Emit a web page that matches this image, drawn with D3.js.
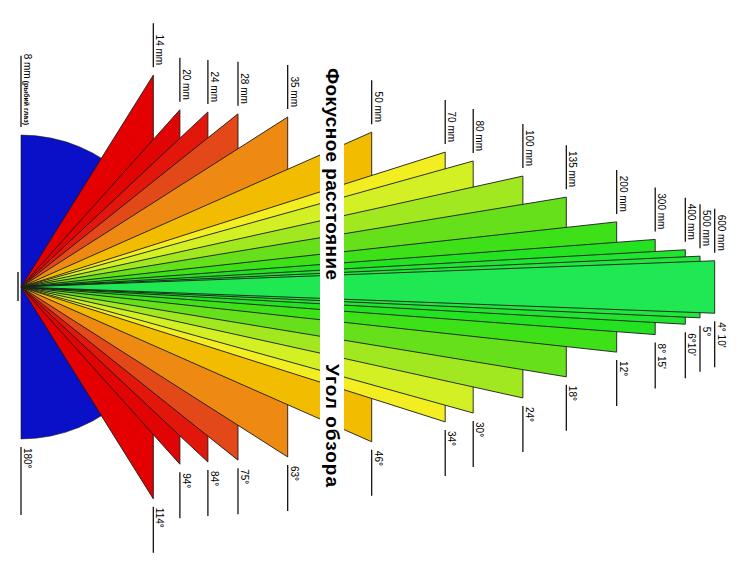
<!DOCTYPE html>
<html>
<head>
<meta charset="utf-8">
<script src="https://cdn.jsdelivr.net/npm/d3@7"></script>
<style>
  html, body { margin: 0; padding: 0; background: #fff; }
  svg { display: block; }
  text { font-family: "Liberation Sans", Arial, sans-serif; fill: #000; }
</style>
</head>
<body>
<svg id="chart" width="742" height="566"></svg>
<script>
// ---- data ----
const focalLabels = ["8 mm", "14 mm", "20 mm", "24 mm", "28 mm", "35 mm", "50 mm", "70 mm", "80 mm",
                     "100 mm", "135 mm", "200 mm", "300 mm", "400 mm", "500 mm", "600 mm"];
const angleDeg = [180, 114, 94, 84, 75, 63, 46, 34, 30, 24, 18, 12, 8.25, 6 + 10/60, 5, 4 + 10/60];
const angleLabels = ["180°", "114°", "94°", "84°", "75°", "63°", "46°", "34°", "30°", "24°", "18°", "12°",
                     "8° 15'", "6°10'", "5°", "4° 10'"];
// relative length of each wedge in the schematic (0..1)
const reach = [0.217, 0.189, 0.227, 0.267, 0.31, 0.381, 0.501, 0.606, 0.646, 0.717, 0.779, 0.851,
               0.906, 0.949, 0.97, 0.991];
const colors = ["#0a10c8", "#e40000", "#e00404", "#e2160a", "#e24818", "#ee8a12", "#f2bc00", "#f2ee22",
                "#d2f024", "#a2e820", "#66e01a", "#3ee018", "#24e222", "#20e430", "#20e63e", "#20e852"];
const fisheyeNote = "(рыбий глаз)";
const titleTop = "Фокусное расстояние";
const titleBottom = "Угол обзора";

// ---- layout ----
const svg = d3.select("#chart");
const cy = 287, x0 = 21, span = 700, k = 1.04;
const x = d3.scaleLinear().domain([0, 1]).range([x0, x0 + span]);
const y = d3.scaleLinear().domain([-1, 1]).range([cy + span * k, cy - span * k]);

const items = focalLabels.map((f, i) => ({
  focal: f, angle: angleDeg[i], alabel: angleLabels[i], reach: reach[i], color: colors[i], i
}));

// fisheye semicircle
const fe = items[0];
const r = x(fe.reach) - x(0);
svg.append("path")
  .attr("d", `M${x(0)},${cy - r} A${r},${r} 0 0 1 ${x(0)},${cy + r} Z`)
  .attr("fill", fe.color)
  .attr("stroke", "#111").attr("stroke-width", 0.6);

fe.top = cy - r; fe.bottom = cy + r; fe.xe = x(0);

// wedges, widest first
items.slice(1).forEach(d => {
  const h = d.reach * Math.tan(d.angle / 2 * Math.PI / 180);
  d.xe = x(d.reach);
  d.top = y(h);
  d.bottom = y(-h);
  svg.append("path")
    .attr("d", `M${x(0)},${cy} L${d.xe},${d.top} L${d.xe},${d.bottom} Z`)
    .attr("fill", d.color)
    .attr("stroke", "#1a1a1a")
    .attr("stroke-width", 0.9)
    .attr("stroke-linejoin", "miter");
});

// vertex tick
svg.append("line").attr("x1", x0 - 3).attr("x2", x0 - 3).attr("y1", cy - 15).attr("y2", cy + 14)
  .attr("stroke", "#000").attr("stroke-width", 1.3);

// white strip with titles
svg.append("rect").attr("x", 320).attr("y", 60).attr("width", 24).attr("height", 440).attr("fill", "#fff");
svg.append("text")
  .attr("transform", `translate(326,68) rotate(90)`)
  .attr("font-size", 19).attr("font-weight", "bold")
  .attr("textLength", 212).attr("lengthAdjust", "spacing")
  .text(titleTop);
svg.append("text")
  .attr("transform", `translate(326,364) rotate(90)`)
  .attr("font-size", 19).attr("font-weight", "bold")
  .attr("textLength", 123).attr("lengthAdjust", "spacing")
  .text(titleBottom);

// labels
const fs = 10;
items.forEach(d => {
  // top label
  const g = svg.append("g");
  const t = g.append("text")
    .attr("font-size", fs)
    .attr("text-anchor", "end");
  t.append("tspan").text(d.focal);
  if (d.i === 0) {
    t.append("tspan").attr("font-size", 7).attr("font-weight", "bold").attr("dx", 2).text(fisheyeNote);
  }
  const len = Math.max(44, t.node().getComputedTextLength() + 2);
  const yb = d.top - 8;
  t.attr("transform", `translate(${d.xe + 3},${yb - 2}) rotate(90)`);
  g.append("line").attr("x1", d.xe).attr("x2", d.xe).attr("y1", yb - len).attr("y2", yb)
    .attr("stroke", "#000").attr("stroke-width", 1.2);

  // bottom label
  const yt = d.bottom + 8;
  const blen = d.i === 0 ? 68 : 46;
  svg.append("line").attr("x1", d.xe).attr("x2", d.xe).attr("y1", yt).attr("y2", yt + blen)
    .attr("stroke", "#000").attr("stroke-width", 1.2);
  svg.append("text")
    .attr("font-size", fs)
    .attr("transform", `translate(${d.xe + 3},${yt + 1}) rotate(90)`)
    .text(d.alabel);
});
</script>
</body>
</html>
